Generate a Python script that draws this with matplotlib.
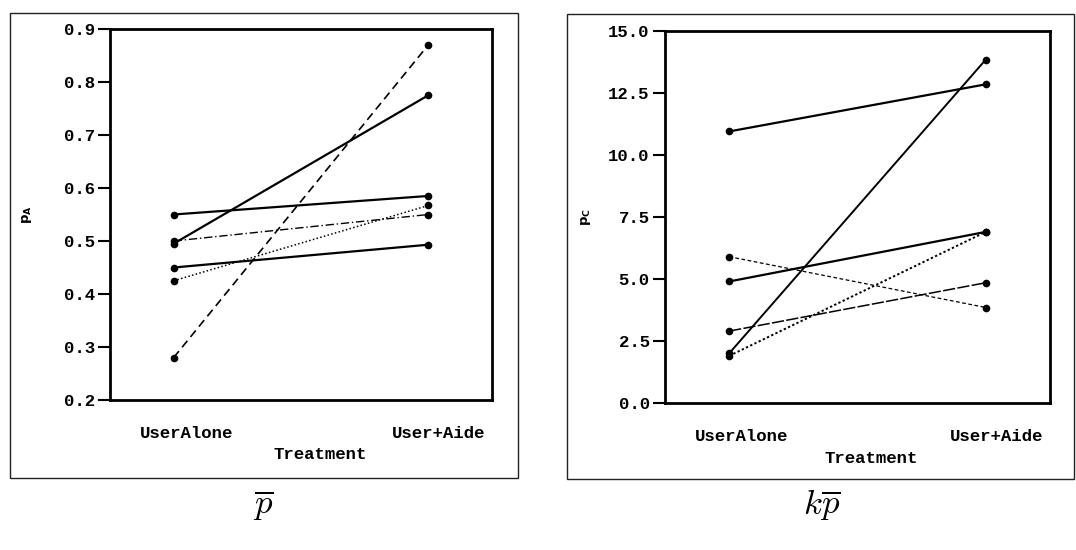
import matplotlib
matplotlib.use("Agg")
import matplotlib.pyplot as plt
from matplotlib.patches import Rectangle

# ~~~~~~~~~~~~~~~~~~~~~~~~~~~~~~ Données ~~~~~~~~~~~~~~~~~~~~~~~~~~~~~~ #
traitements = ["UserAlone", "User+Aide"]

# panneau gauche : p_A
pa_seuls = [0.55, 0.495, 0.28, 0.50, 0.425, 0.45]
pa_aide = [0.585, 0.775, 0.87, 0.55, 0.567, 0.493]
pa_styles = ["-", "-", (0, (5, 3)), (0, (6, 2, 1, 2)), (0, (1, 1.5)), "-"]
pa_largeurs = [1.6, 1.6, 1.2, 1.0, 1.1, 1.6]

# panneau droit : p_C
pc_seuls = [10.95, 2.0, 4.9, 5.9, 2.9, 1.9]
pc_aide = [12.85, 13.85, 6.9, 3.85, 4.85, 6.9]
pc_styles = ["-", "-", "-", (0, (3, 2)), (0, (8, 1.5)), (0, (1.2, 1.2))]
pc_largeurs = [1.6, 1.4, 1.6, 0.9, 1.1, 1.4]

plt.rcParams["font.family"] = ["Liberation Mono", "DejaVu Sans Mono"]
plt.rcParams["font.weight"] = "bold"

fig = plt.figure(figsize=(10.76, 5.5), dpi=100)
W, H = 1076, 550


def cadre(x0, y0, x1, y1):
    fig.patches.append(Rectangle((x0 / W, 1 - y1 / H), (x1 - x0) / W, (y1 - y0) / H,
                                 transform=fig.transFigure, fill=False,
                                 edgecolor="#222222", linewidth=1.0))


def panneau(rect, seuls, aide, styles, largeurs, ylim, yticks, yfmt, ylabel, ylab_x, xlab_x):
    ax = fig.add_axes(rect)
    for a, b, st, lw in zip(seuls, aide, styles, largeurs):
        ax.plot([0, 1], [a, b], linestyle=st, color="black", linewidth=lw,
                marker="o", markersize=4.5)
    ax.set_xlim(-0.25, 1.25)
    ax.set_ylim(*ylim)
    ax.set_yticks(yticks)
    ax.set_yticklabels([yfmt.format(v) for v in yticks], fontsize=12.5, fontweight="bold")
    ax.set_xticks([0.05, 1.04])
    ax.set_xticklabels(traitements, fontsize=12.5, fontweight="bold")
    ax.tick_params(axis="x", length=0, pad=19)
    ax.tick_params(axis="y", length=9, width=1.5, direction="out", pad=2)
    for s in ax.spines.values():
        s.set_linewidth(2)
    ax.set_xlabel("Treatment", fontsize=12.5, fontweight="bold")
    ax.xaxis.set_label_coords(xlab_x, -0.128)
    ax.set_ylabel(ylabel, fontsize=9.5, fontweight="bold")
    ax.yaxis.set_label_coords(ylab_x, 0.5)
    return ax


# ~~~~~~~~~~~~~~~~~~~~~~~~~~~~ Panneau gauche ~~~~~~~~~~~~~~~~~~~~~~~~~~~~ #
cadre(10, 13, 518, 478)
panneau([110 / W, 1 - 400 / H, 382 / W, 371 / H], pa_seuls, pa_aide, pa_styles, pa_largeurs,
        (0.2, 0.9), [0.2, 0.3, 0.4, 0.5, 0.6, 0.7, 0.8, 0.9], "{:.1f}",
        r"$\mathbf{p_A}$", -0.2, (320 - 110) / 382)

# ~~~~~~~~~~~~~~~~~~~~~~~~~~~~ Panneau droit ~~~~~~~~~~~~~~~~~~~~~~~~~~~~ #
cadre(567, 14, 1074, 479)
panneau([665 / W, 1 - 403 / H, 385 / W, 372 / H], pc_seuls, pc_aide, pc_styles, pc_largeurs,
        (0, 15), [0, 2.5, 5, 7.5, 10, 12.5, 15], "{:.1f}",
        r"$\mathbf{p_C}$", -0.187, (871 - 665) / 385)

# ~~~~~~~~~~~~~~~~~~~~~~~~~~~~~~ Légendes ~~~~~~~~~~~~~~~~~~~~~~~~~~~~~~ #
fig.text(263 / W, 1 - 505 / H, r"$\overline{p}$", fontsize=25, ha="center", va="center",
         math_fontfamily="cm")
fig.text(822 / W, 1 - 505 / H, r"$k\overline{p}$", fontsize=25, ha="center", va="center",
         math_fontfamily="cm")

fig.savefig("out.png", dpi=100)
